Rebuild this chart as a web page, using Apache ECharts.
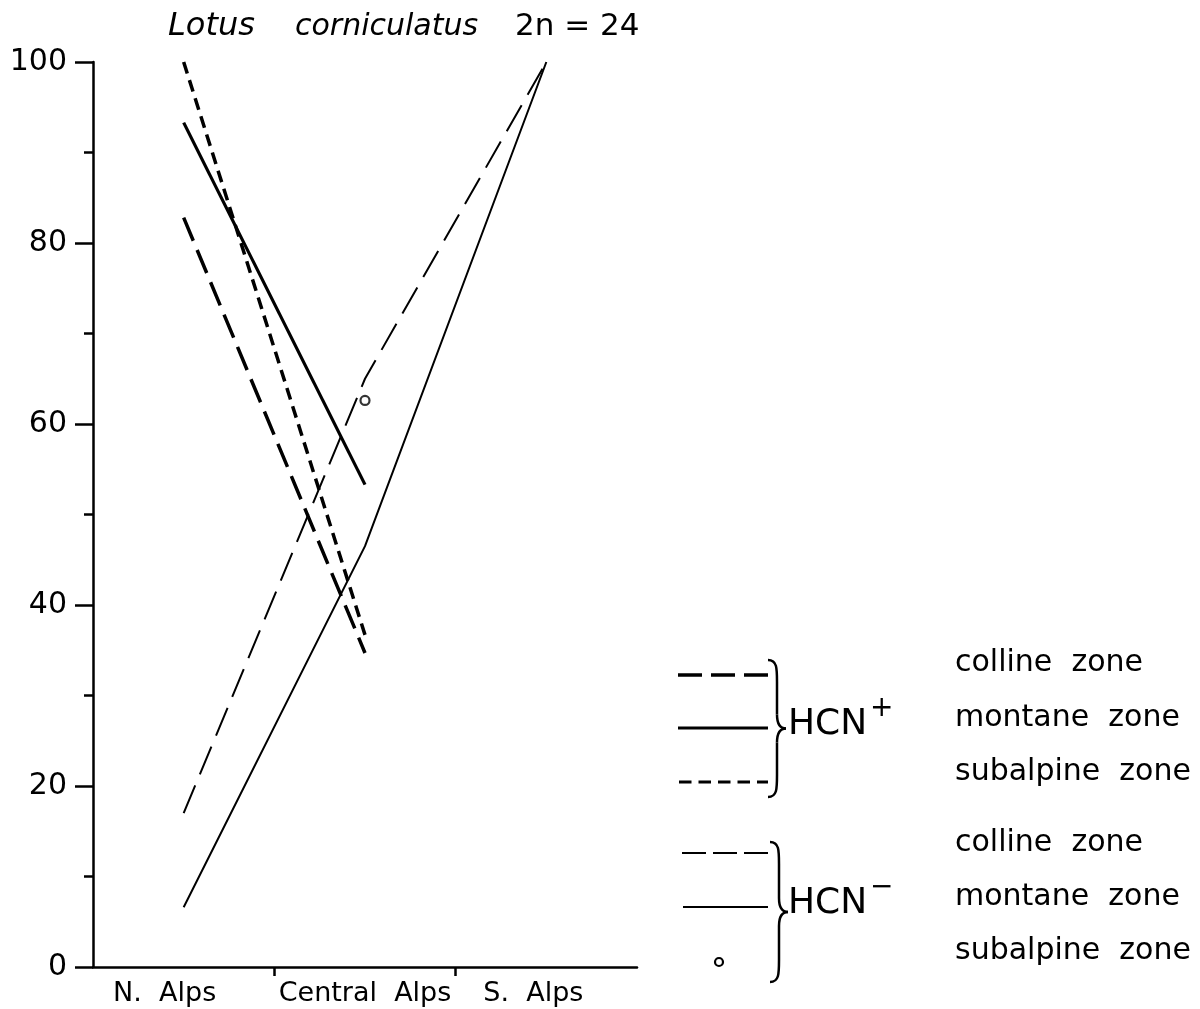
<!DOCTYPE html>
<html>
<head>
<meta charset="utf-8">
<script src="https://cdn.jsdelivr.net/npm/echarts@6/dist/echarts.min.js"></script>
<style>html,body{margin:0;padding:0;background:#fff}#c{width:1200px;height:1009px}</style>
</head>
<body>
<div id="c"></div>
<script>
// ---- data ----
var categories = ['N. Alps', 'Central Alps', 'S. Alps'];
var yTicks = [0, 20, 40, 60, 80, 100];
var hcnPlusColline   = [82.8, 34.7, null];
var hcnPlusMontane   = [93.3, 53.3, null];
var hcnPlusSubalpine = [100, 36.7, null];
var hcnMinusColline  = [17.0, 65.0, 100];
var hcnMinusMontane  = [6.6, 46.5, 100];
var hcnMinusSubalpine = [null, 62.6, null];
var xTickPositions = [1, 2];

var FONT = '"DejaVu Sans", "Noto Sans", sans-serif';
var chart = echarts.init(document.getElementById('c'), null, {renderer: 'canvas'});

function lineSeries(name, data, width, dash) {
  return {
    name: name, type: 'line', data: data, xAxisIndex: 0, yAxisIndex: 0,
    symbol: 'none', connectNulls: false, silent: true,
    lineStyle: {color: '#000', width: width, type: dash, cap: 'butt'}
  };
}

var BR = {stroke: '#000', lineWidth: 2.5, fill: null};
function brace(x, y0, y1) {
  var ym = (y0 + y1) / 2;
  return [
    {type: 'bezierCurve', shape: {x1: x - 9, y1: y0, cpx1: x, cpy1: y0, cpx2: x, cpy2: y0 + 8, x2: x, y2: y0 + 22}, style: BR, silent: true},
    {type: 'line', shape: {x1: x, y1: y0 + 22, x2: x, y2: ym - 14}, style: BR, silent: true},
    {type: 'bezierCurve', shape: {x1: x, y1: ym - 14, cpx1: x, cpy1: ym - 4, cpx2: x + 3, cpy2: ym, x2: x + 9, y2: ym}, style: BR, silent: true},
    {type: 'bezierCurve', shape: {x1: x + 9, y1: ym, cpx1: x + 3, cpy1: ym, cpx2: x, cpy2: ym + 4, x2: x, y2: ym + 14}, style: BR, silent: true},
    {type: 'line', shape: {x1: x, y1: ym + 14, x2: x, y2: y1 - 22}, style: BR, silent: true},
    {type: 'bezierCurve', shape: {x1: x, y1: y1 - 22, cpx1: x, cpy1: y1 - 8, cpx2: x, cpy2: y1, x2: x - 9, y2: y1}, style: BR, silent: true}
  ];
}

function txt(x, y, s, extra) {
  var st = Object.assign({fill: '#000', font: '30px ' + FONT, text: s}, extra || {});
  return {type: 'text', left: x, top: y, style: st, silent: true};
}
function segLine(x1, x2, y, w, dash) {
  return {type: 'line', shape: {x1: x1, y1: y, x2: x2, y2: y},
    style: {stroke: '#000', lineWidth: w, lineDash: dash}, silent: true};
}
function hcn(x, y, sign) {
  return [
    txt(x, y, 'HCN', {font: '36px ' + FONT}),
    txt(x + 82, y - 12, sign, {font: '28px ' + FONT})
  ];
}

var graphics = [
  txt(168, 11, 'Lotus', {font: 'italic 32px ' + FONT}),
  txt(295, 12, 'corniculatus', {font: 'italic 30px ' + FONT}),
  txt(515, 11, '2n = 24', {font: '31px ' + FONT}),
  segLine(678, 768, 675, 3.5, [24, 9]),
  segLine(678, 768, 728, 3.2, null),
  segLine(679, 768, 782, 3.2, [12.5, 7]),
  segLine(682, 768, 853, 2, [24, 7]),
  segLine(683, 768, 907, 2, null),
  {type: 'circle', shape: {cx: 719, cy: 962, r: 4}, style: {fill: '#fff', stroke: '#000', lineWidth: 2.2}, silent: true},
  txt(955, 648, 'colline  zone'),
  txt(955, 703, 'montane  zone'),
  txt(955, 757, 'subalpine  zone'),
  txt(955, 828, 'colline  zone'),
  txt(955, 882, 'montane  zone'),
  txt(955, 936, 'subalpine  zone')
].concat(brace(777, 660, 797), brace(779, 842, 982), hcn(788, 707, '+'), hcn(788, 886, '\u2212'));

var option = {
  animation: false,
  backgroundColor: '#fff',
  grid: {left: 93, right: 563, top: 62, bottom: 42, containLabel: false},
  xAxis: [{
    type: 'category', data: categories, boundaryGap: true, position: 'bottom',
    axisLine: {show: true, lineStyle: {color: '#000', width: 2.5}},
    axisTick: {show: false},
    axisLabel: {
      interval: 0, hideOverlap: false, color: '#000', fontFamily: FONT, fontSize: 27, margin: 13,
      formatter: function (v, i) { return '{c' + i + '|' + v.replace(' Alps', '  Alps') + '}'; },
      rich: {
        c0: {fontFamily: FONT, fontSize: 27, color: '#000', padding: [0, 38, 0, 0]},
        c1: {fontFamily: FONT, fontSize: 27, color: '#000'},
        c2: {fontFamily: FONT, fontSize: 27, color: '#000', padding: [0, 26, 0, 0]}
      }
    },
    splitLine: {show: false}
  }, {
    type: 'value', min: 0, max: 3, position: 'bottom',
    axisLine: {show: false},
    axisTick: {show: true, customValues: xTickPositions, length: 9, inside: false,
      lineStyle: {color: '#000', width: 2.5}},
    axisLabel: {show: false},
    splitLine: {show: false}
  }],
  yAxis: {
    type: 'value', min: 0, max: 100, interval: 20,
    axisLine: {show: true, lineStyle: {color: '#000', width: 2.5}},
    axisTick: {show: true, length: 18, lineStyle: {color: '#000', width: 2.5}},
    minorTick: {show: true, splitNumber: 2, length: 9, lineStyle: {color: '#000', width: 2.5}},
    axisLabel: {color: '#000', fontFamily: FONT, fontSize: 30, margin: 26,
      formatter: function (v) { return yTicks.indexOf(v) >= 0 ? String(v) : ''; }},
    splitLine: {show: false}
  },
  series: [
    lineSeries('HCN+ colline', hcnPlusColline, 3.5, [25, 10]),
    lineSeries('HCN+ montane', hcnPlusMontane, 3.2, 'solid'),
    lineSeries('HCN+ subalpine', hcnPlusSubalpine, 3.5, [12, 7]),
    lineSeries('HCN- colline', hcnMinusColline, 2, [30, 12]),
    lineSeries('HCN- montane', hcnMinusMontane, 2, 'solid'),
    {
      name: 'HCN- subalpine', type: 'scatter', data: hcnMinusSubalpine,
      symbol: 'circle', symbolSize: 9, silent: true,
      itemStyle: {color: '#fff', borderColor: '#000', borderWidth: 2.2}
    }
  ],
  graphic: graphics
};
chart.setOption(option);
</script>
</body>
</html>
